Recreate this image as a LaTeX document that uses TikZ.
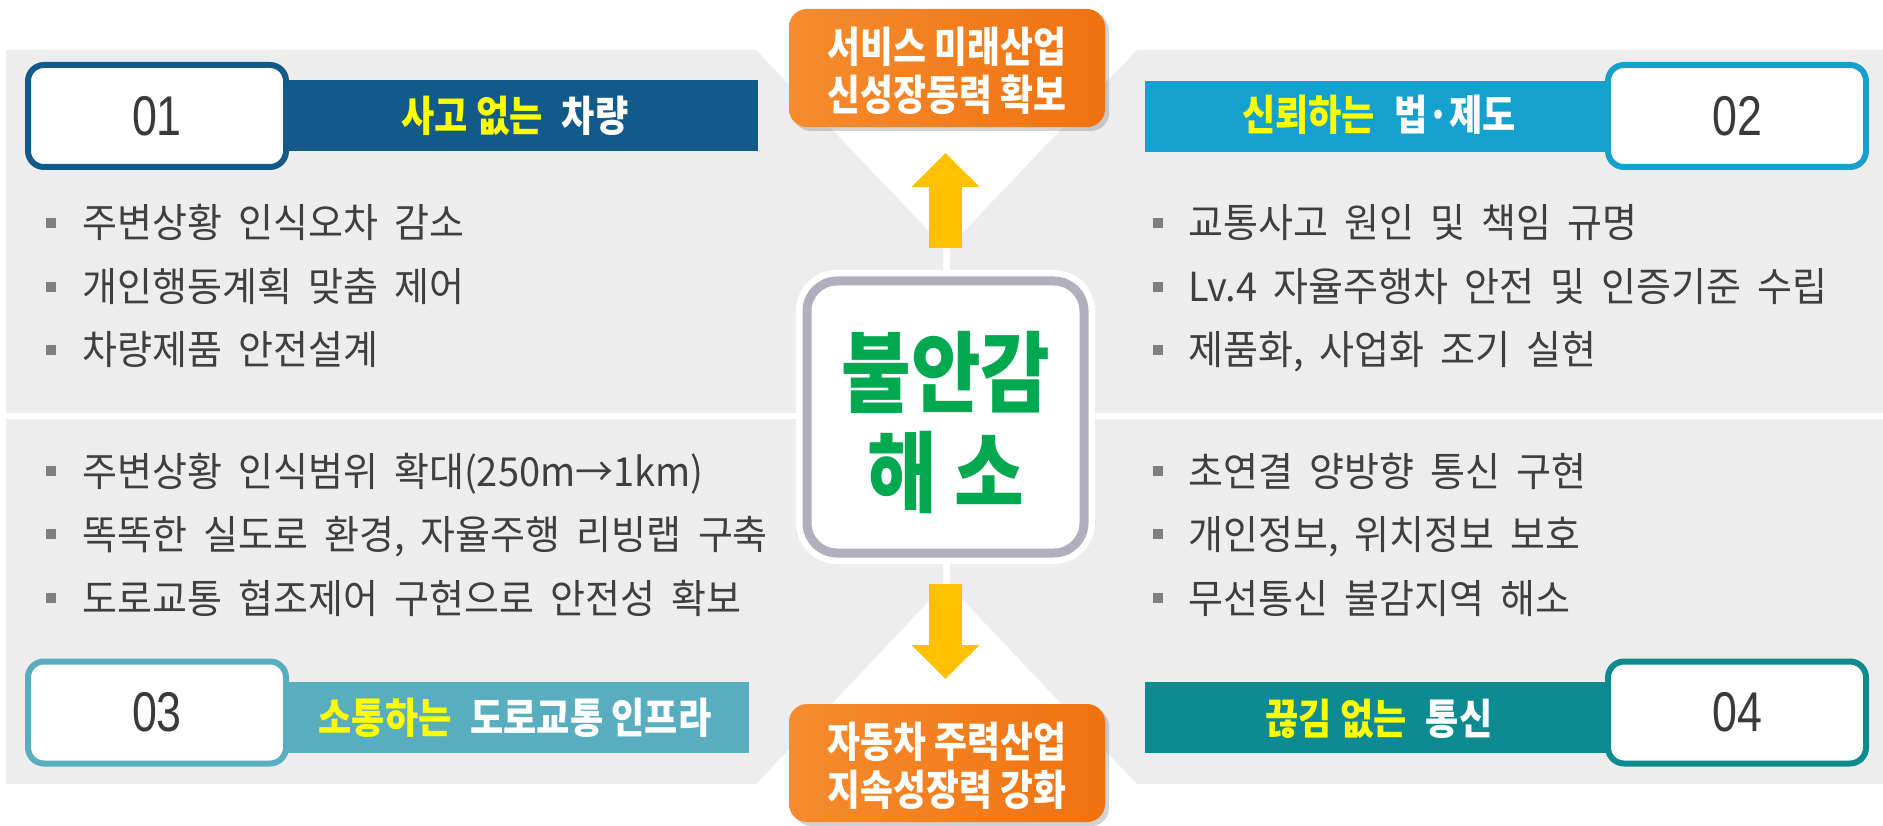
\documentclass[tikz,border=0pt]{standalone}
\usepackage{fontspec}
\usetikzlibrary{arrows.meta,shadows}
\newfontfamily\krbody{Noto Sans CJK KR}[FakeStretch=0.95,WordSpace=1.9]
\newfontfamily\krhead{Noto Sans CJK KR}[FakeStretch=0.86]
\newfontfamily\kror{Noto Sans CJK KR}[FakeStretch=0.85]
\newfontfamily\krctr{Noto Sans CJK KR}[FakeStretch=0.86]
\newfontfamily\numfont{Liberation Sans}[FakeStretch=0.8]
\definecolor{panelgray}{HTML}{EDEDED}
\definecolor{cA}{HTML}{125A8A}
\definecolor{cB}{HTML}{15A1CD}
\definecolor{cC}{HTML}{58AEBF}
\definecolor{cD}{HTML}{0E8A91}
\definecolor{orA}{HTML}{F58C2E}
\definecolor{orB}{HTML}{F07210}
\definecolor{arrowyel}{HTML}{FFC000}
\definecolor{ctrgreen}{HTML}{00A950}
\definecolor{ringgray}{HTML}{B1AFBD}
\definecolor{bodygray}{HTML}{3F3F3F}
\definecolor{bulgray}{HTML}{7F7F7F}
\definecolor{yel}{HTML}{FFFF00}
\definecolor{numtext}{HTML}{3A3A3A}
\begin{document}
\begin{tikzpicture}[x=1pt,y=-1pt,
  numbox/.style={draw, line width=6pt, fill=white, rounded corners=16pt,
    minimum width=258pt, minimum height=102pt, inner sep=0pt, text=numtext,
    font=\numfont\fontsize{56}{60}\selectfont},
  hbar/.style={inner sep=0pt, minimum height=71pt},
  htext/.style={inner sep=0pt, text=white, font=\krhead\bfseries\fontsize{42}{50}\selectfont},
  bodytext/.style={anchor=base west, inner sep=0pt, text=bodygray,
    font=\krbody\fontsize{40}{48}\selectfont},
  bul/.style={fill=bulgray, minimum size=10pt, inner sep=0pt},
  orbox/.style={rounded corners=18pt, minimum width=316pt, minimum height=118pt,
    inner sep=0pt, left color=orA, right color=orB,
    drop shadow={shadow xshift=4pt, shadow yshift=-4pt, opacity=0.35}},
  ortext/.style={inner sep=0pt, text=white, align=center,
    font=\kror\bfseries\fontsize{42}{48}\selectfont},
  yarrow/.style={line width=33pt, draw=arrowyel, -{Triangle[width=66pt,length=34pt]}}
]
\useasboundingbox (0,0) rectangle (1883,826);
\fill[white] (0,0) rectangle (1883,826);
% quadrant panels
\fill[panelgray] (6,50) -- (756,50) -- (943,246) -- (943,413) -- (6,413) -- cycle;
\fill[panelgray] (1137,50) -- (1883,50) -- (1883,413) -- (950,413) -- (950,246) -- cycle;
\fill[panelgray] (6,419) -- (943,419) -- (943,586) -- (756,784) -- (6,784) -- cycle;
\fill[panelgray] (950,419) -- (1883,419) -- (1883,784) -- (1137,784) -- (950,586) -- cycle;

% Q1
\node[hbar, fill=cA, minimum width=472pt] (bar1) at (522,115.5) {};
\node[numbox, draw=cA] (n1) at (157,116) {01};
\node[htext] (h1) at (515,116) {{\color{yel}사고 없는}\hspace{0.45em}차량};
\node[bul] (b11) at (51,223) {};
\node[bul] (b12) at (51,287) {};
\node[bul] (b13) at (51,350) {};
\node[bodytext] (t11) at (82,238) {주변상황 인식오차 감소};
\node[bodytext] (t12) at (82,302) {개인행동계획 맞춤 제어};
\node[bodytext] (t13) at (82,365) {차량제품 안전설계};

% Q2
\node[hbar, fill=cB, minimum width=464pt] (bar2) at (1377,116.5) {};
\node[numbox, draw=cB] (n2) at (1737,116) {02};
\node[htext] (h2) at (1379,115) {{\color{yel}신뢰하는}\hspace{0.45em}법·제도};
\node[bul] (b21) at (1158,223) {};
\node[bul] (b22) at (1158,287) {};
\node[bul] (b23) at (1158,350) {};
\node[bodytext] (t21) at (1188,238) {교통사고 원인 및 책임 규명};
\node[bodytext] (t22) at (1188,302) {Lv.4 자율주행차 안전 및 인증기준 수립};
\node[bodytext] (t23) at (1188,365) {제품화, 사업화 조기 실현};

% Q3
\node[hbar, fill=cC, minimum width=463pt] (bar3) at (517.5,717) {};
\node[numbox, draw=cC] (n3) at (157,712.5) {03};
\node[htext] (h3) at (515,718) {{\color{yel}소통하는}\hspace{0.45em}도로교통 인프라};
\node[bul] (b31) at (51,471) {};
\node[bul] (b32) at (51,534) {};
\node[bul] (b33) at (51,598) {};
\node[bodytext] (t31) at (82,486) {주변상황 인식범위 확대(250m→1km)};
\node[bodytext] (t32) at (82,549) {똑똑한 실도로 환경, 자율주행 리빙랩 구축};
\node[bodytext] (t33) at (82,613) {도로교통 협조제어 구현으로 안전성 확보};

% Q4
\node[hbar, fill=cD, minimum width=464pt] (bar4) at (1377,717) {};
\node[numbox, draw=cD] (n4) at (1737,712.5) {04};
\node[htext] (h4) at (1379,719) {{\color{yel}끊김 없는}\hspace{0.45em}통신};
\node[bul] (b41) at (1158,471) {};
\node[bul] (b42) at (1158,534) {};
\node[bul] (b43) at (1158,598) {};
\node[bodytext] (t41) at (1188,486) {초연결 양방향 통신 구현};
\node[bodytext] (t42) at (1188,549) {개인정보, 위치정보 보호};
\node[bodytext] (t43) at (1188,613) {무선통신 불감지역 해소};

% center
\node[draw=ringgray, line width=9pt, fill=white, rounded corners=30pt,
  minimum width=277pt, minimum height=272pt, inner sep=0pt,
  preaction={draw=white, line width=22pt}] (ctr) at (945.5,417) {};
\node[inner sep=0pt, text=ctrgreen, align=center,
  font=\krctr\bfseries\fontsize{88}{100}\selectfont] (ctrtext) at (946,422) {불안감\\해 소};

% orange boxes
\node[orbox] (top) at (947,68) {};
\node[ortext] (toptext) at (947,71) {서비스 미래산업\\신성장동력 확보};
\node[orbox] (bot) at (947,763) {};
\node[ortext] (bottext) at (947,766) {자동차 주력산업\\지속성장력 강화};

% arrows
\coordinate (upS) at (945.5,248);
\coordinate (upT) at (945.5,153);
\coordinate (dnS) at (945.5,584);
\coordinate (dnT) at (945.5,679);
\draw[yarrow] (upS) -- (upT);
\draw[yarrow] (dnS) -- (dnT);
\end{tikzpicture}
\end{document}
